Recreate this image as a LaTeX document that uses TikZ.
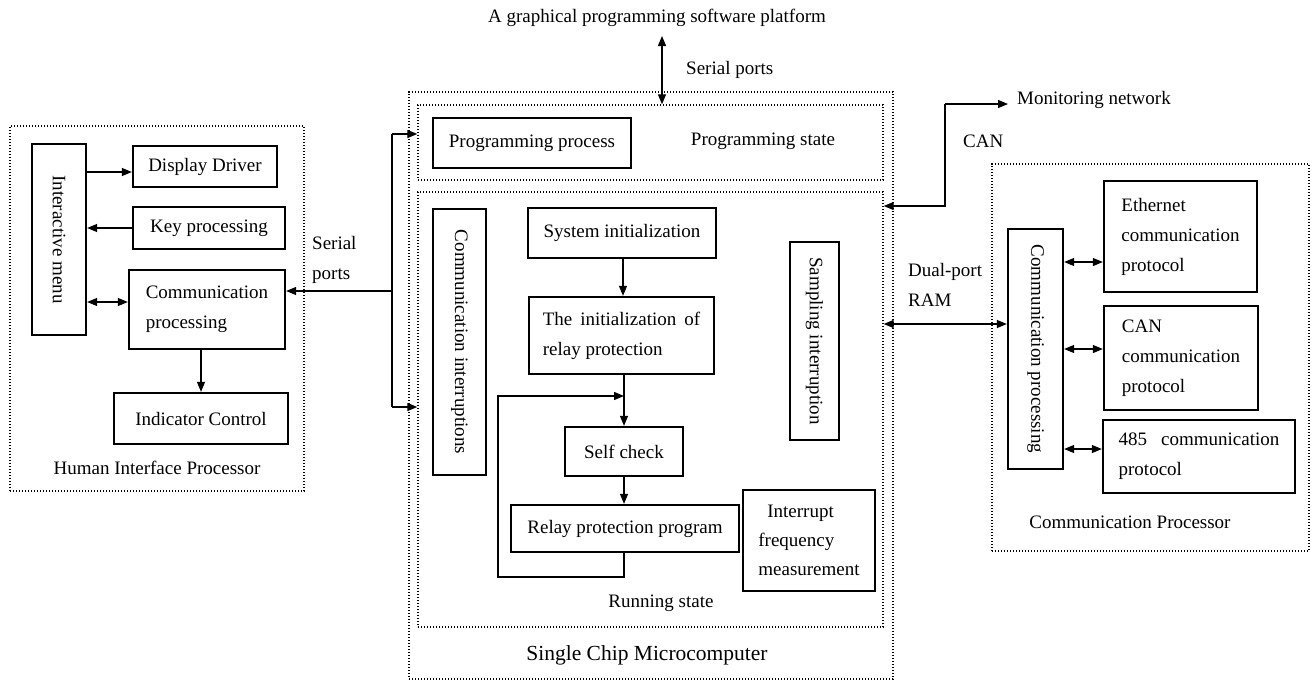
\documentclass[tikz,border=0pt]{standalone}
\usepackage{fontspec}
\setmainfont{Liberation Serif}
\usetikzlibrary{arrows.meta}
\begin{document}
\begin{tikzpicture}[x=1pt,y=-1pt,
  font=\fontsize{19}{30}\selectfont,
  box/.style={draw, line width=2.3pt, inner sep=0pt, align=left},
  dotbox/.style={draw, line width=1.4pt, dash pattern=on 1.4pt off 1.6pt, inner sep=0pt},
  conn/.style={line width=1.3pt},
  arr/.style={conn, -{Triangle[length=10pt,width=8pt]}},
  darr/.style={conn, {Triangle[length=10pt,width=8pt]}-{Triangle[length=10pt,width=8pt]}},
  lbl/.style={inner sep=1pt, align=left},
  sz/.style 2 args={minimum width=#1, minimum height=#2},
]
\useasboundingbox (0,0) rectangle (1312,681);

% ---------- Human Interface Processor ----------
\node[dotbox, sz={294}{365}] (hip) at (157,308.5) {};
\node[box, sz={54}{191}] (menu) at (59,239.5) {\rotatebox{-90}{Interactive menu}};
\node[box, sz={144}{41}] (dd) at (205,166.5) {Display Driver};
\node[box, sz={152}{42}] (kp) at (209,228) {Key processing};
\node[box, sz={156}{79}] (cp) at (207,309.5) {Communication\\processing};
\node[box, sz={174}{51}] (ic) at (201,418.5) {Indicator Control};
\node[lbl] (hiplbl) at (157,468) {Human Interface Processor};

\draw[arr] (menu.east |- 0,172) -- (dd.west |- 0,172);
\draw[arr] (kp.west) -- (menu.east |- kp.west);
\draw[darr] (menu.east |- 0,302) -- (cp.west |- 0,302);
\draw[arr] (cp.south -| 201,0) -- (ic.north -| 201,0);

% ---------- Single Chip Microcomputer ----------
\node[dotbox, sz={484}{587}] (scm) at (651,385.5) {};
\node[dotbox, sz={465}{75}] (ps) at (650.5,142.5) {};
\node[dotbox, sz={465}{435}] (rs) at (650.5,409.5) {};
\node[box, sz={198}{50}] (pp) at (532,143) {Programming process};
\node[lbl] (pslbl) at (763,141) {Programming state};

\node[lbl] (plat) at (657,18) {A graphical programming software platform};
\coordinate (platc) at (662,36);
\draw[darr] (platc) -- (ps.north -| platc);
\node[lbl, anchor=west] (spt) at (685,70) {Serial ports};

\node[box, sz={53}{266}] (ci) at (459.5,342) {\rotatebox{-90}{Communication interruptions}};
\node[box, sz={188}{50}] (si) at (622,233) {System initialization};
\node[box, sz={185}{77}] (ir) at (621.5,335.5) {The\hspace{8pt}initialization\hspace{8pt}of\\relay protection};
\node[box, sz={118}{49}] (sc) at (624,451.5) {Self check};
\node[box, sz={228}{47}] (rp) at (625,528.5) {Relay protection program};
\node[box, sz={132}{101}] (ifm) at (809,540.5) {\hspace*{9pt}Interrupt\\[-1pt]frequency\\[-1pt]measurement};
\node[box, sz={49}{198}] (sam) at (814.5,341) {\rotatebox{-90}{Sampling interruption}};
\node[lbl] (rslbl) at (661,603) {Running state};
\node[lbl, font=\fontsize{21.5}{26}\selectfont] (scmlbl) at (647,655) {Single Chip Microcomputer};

\draw[arr] (si.south -| 623,0) -- (ir.north -| 623,0);
\draw[arr] (ir.south -| 624,0) -- (sc.north -| 624,0);
\draw[arr] (sc.south -| 624,0) -- (rp.north -| 624,0);
\coordinate (lj) at (624,396);
\draw[arr] (rp.south -| 624,0) -- (624,577) -- (498,577) -- (498,396) -- (lj);

% ---------- serial ports bus ----------
\coordinate (bus) at (392,291);
\coordinate (bt) at (392,134);
\coordinate (bb) at (392,407);
\draw[conn] (bt) -- (bb);
\draw[arr] (bus) -- (cp.east |- bus);
\draw[arr] (bt) -- (ps.west |- bt);
\draw[arr] (bb) -- (rs.west |- bb);
\node[lbl, anchor=west] (splbl) at (311,260) {Serial\\ports};

% ---------- monitoring network ----------
\node[lbl, anchor=west] (mon) at (1016,100) {Monitoring network};
\coordinate (cj) at (945,104);
\draw[arr] (cj) -- (1008,104);
\draw[arr] (cj) -- (945,206) -- (rs.east |- 0,206);
\node[lbl, anchor=west] (canlbl) at (962,141) {CAN};

% ---------- Communication Processor ----------
\node[dotbox, sz={317}{387}] (cpp) at (1150.5,357.5) {};
\node[box, sz={55}{240}] (cpr) at (1035.5,349) {\rotatebox{-90}{Communication processing}};
\node[box, sz={153}{111}] (eth) at (1180.5,236.5) {Ethernet\\communication\\protocol};
\node[box, sz={154}{104}] (canp) at (1181,358) {CAN\\communication\\protocol};
\node[box, sz={192}{73}] (r485) at (1199,456.5) {485\hspace{14pt}communication\\protocol};
\node[lbl] (cpplbl) at (1130,522) {Communication Processor};

\draw[darr] (rs.east |- 0,324) -- (cpr.west |- 0,324);
\node[lbl, anchor=west] (dpr) at (907,285) {Dual-port\\RAM};
\draw[darr] (cpr.east |- 0,262) -- (eth.west |- 0,262);
\draw[darr] (cpr.east |- 0,349) -- (canp.west |- 0,349);
\draw[darr] (cpr.east |- 0,449) -- (r485.west |- 0,449);
\end{tikzpicture}
\end{document}
